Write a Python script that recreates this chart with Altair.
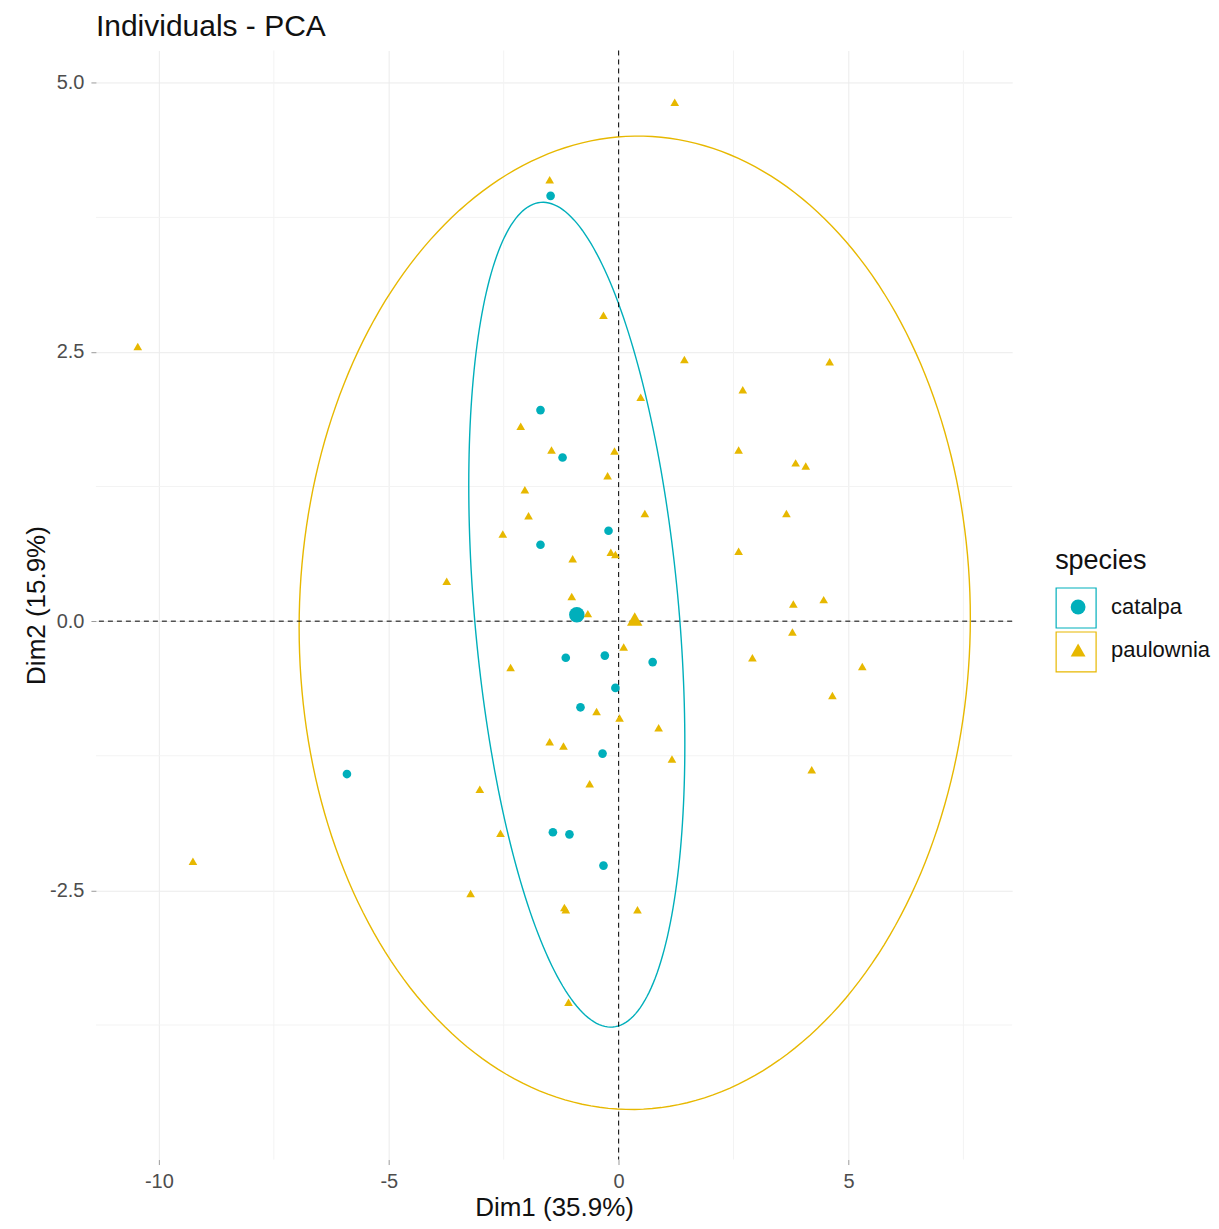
import numpy as np
import pandas as pd
import altair as alt

# ---------------- data ----------------
catalpa_x = [-1.48, -1.70, -1.22, -0.22, -1.70, -1.15, -0.30, 0.74, -0.07, -0.83,
             -0.35, -5.91, -1.43, -1.07, -0.33]
catalpa_y = [3.95, 1.96, 1.52, 0.84, 0.71, -0.34, -0.32, -0.38, -0.62, -0.80,
             -1.23, -1.42, -1.96, -1.98, -2.27]

paulownia_x = [1.22, -1.50, -0.33, -10.46, 1.43, 4.59, 2.70, 0.48, -2.13, -1.46,
               -0.09, 2.61, -0.24, 3.85, 4.07, -2.04, -1.96, 0.57, 3.65, -2.52,
               -1.00, -0.17, -0.07, 2.61, -3.74, -1.02, -0.67, 3.80, 4.46, 3.78,
               0.11, -2.35, 2.91, 5.30, 4.65, -0.48, 0.02, -1.50, -1.20, 0.87,
               1.16, -0.63, 4.20, -3.02, -2.57, -9.26, -3.22, -1.15, -1.18, 0.41,
               -1.09]
paulownia_y = [4.82, 4.10, 2.84, 2.55, 2.43, 2.41, 2.15, 2.08, 1.81, 1.59,
               1.58, 1.59, 1.35, 1.47, 1.44, 1.22, 0.98, 1.00, 1.00, 0.81,
               0.58, 0.64, 0.62, 0.65, 0.37, 0.23, 0.07, 0.16, 0.20, -0.10,
               -0.24, -0.43, -0.34, -0.42, -0.69, -0.84, -0.90, -1.12, -1.16, -0.99,
               -1.28, -1.51, -1.38, -1.56, -1.97, -2.23, -2.53, -2.68, -2.66, -2.68,
               -3.54]

species = ["catalpa", "paulownia"]
palette = ["#00AFBB", "#E7B800"]
shapes = ["circle", "triangle-up"]

# group means (large symbols)
mean_x = [-0.91, 0.35]
mean_y = [0.06, 0.02]

# concentration ellipses: centre x, centre y, half-extent x, half-extent y, correlation
ell_cx = [-0.91, 0.35]
ell_cy = [0.06, -0.015]
ell_sx = [2.35, 7.30]
ell_sy = [3.83, 4.52]
ell_r = [-0.314, 0.01]

major_x = [-10, -5, 0, 5]
major_y = [-2.5, 0.0, 2.5, 5.0]
minor_x = [-7.5, -2.5, 2.5, 7.5]
minor_y = [-3.75, -1.25, 1.25, 3.75]
ref_zero = [0.0]

x_domain = [-11.37, 8.56]
y_domain = [-5.0, 5.30]

# ---------------- tables ----------------
pts = pd.DataFrame({
    "x": catalpa_x + paulownia_x,
    "y": catalpa_y + paulownia_y,
    "species": ["catalpa"] * len(catalpa_x) + ["paulownia"] * len(paulownia_x),
})
means = pd.DataFrame({"x": mean_x, "y": mean_y, "species": species})

rows = []
t = np.linspace(0, 2 * np.pi, 241)
for sp, cx, cy, sx, sy, r in zip(species, ell_cx, ell_cy, ell_sx, ell_sy, ell_r):
    S = np.array([[sx * sx, r * sx * sy], [r * sx * sy, sy * sy]])
    L = np.linalg.cholesky(S)
    circ = np.vstack([np.cos(t), np.sin(t)])
    e = L @ circ
    for i in range(len(t)):
        rows.append({"x": cx + e[0, i], "y": cy + e[1, i], "group": sp, "i": i})
ell = pd.DataFrame(rows)

FONT = "Liberation Sans"
xs = alt.Scale(domain=x_domain, nice=False, zero=False)
ys = alt.Scale(domain=y_domain, nice=False, zero=False)

fix_minus = "replace(datum.label, '\u2212', '-')"

x_axis = alt.Axis(values=major_x, title="Dim1 (35.9%)", grid=True, gridColor="#EBEBEB",
                  gridWidth=1, domain=False, ticks=True, tickSize=5, tickColor="#9A9A9A",
                  labelColor="#4D4D4D", labelFontSize=20, labelFont=FONT, labelPadding=7,
                  labelExpr=fix_minus,
                  titleFont=FONT, titleFontSize=26, titleFontWeight="normal",
                  titleColor="#111111", titlePadding=3)
y_axis = alt.Axis(values=major_y, format=".1f", title="Dim2 (15.9%)", grid=True,
                  gridColor="#EBEBEB", gridWidth=1, domain=False, ticks=True, tickSize=5,
                  tickColor="#9A9A9A", labelColor="#4D4D4D", labelFontSize=20,
                  labelFont=FONT, labelPadding=7, labelExpr=fix_minus,
                  titleFont=FONT, titleFontSize=26,
                  titleFontWeight="normal", titleColor="#111111", titlePadding=0)

base_minx = alt.Chart(pd.DataFrame({"v": minor_x})).mark_rule(
    color="#F3F3F3", strokeWidth=1).encode(x=alt.X("v:Q", scale=xs, axis=x_axis))
base_miny = alt.Chart(pd.DataFrame({"v": minor_y})).mark_rule(
    color="#F3F3F3", strokeWidth=1).encode(y=alt.Y("v:Q", scale=ys, axis=y_axis))

LEG_X = 960
LEG_Y = 498

# legend carrying the title and the outlined key boxes
box_legend = alt.Legend(
    title="species", orient="none", legendX=LEG_X, legendY=LEG_Y,
    symbolType="square", symbolSize=1600, symbolStrokeWidth=1.2,
    symbolFillColor="transparent", rowPadding=-3, titlePadding=12,
    titleFont=FONT, titleFontSize=27, titleFontWeight="normal", titleColor="#111111",
    labelFont=FONT, labelFontSize=20, labelExpr="''",
)
ellipses = alt.Chart(ell).mark_line(strokeWidth=1.4).encode(
    x=alt.X("x:Q", scale=xs, axis=x_axis),
    y=alt.Y("y:Q", scale=ys, axis=y_axis),
    stroke=alt.Stroke("group:N", scale=alt.Scale(range=palette), legend=box_legend),
    detail="group:N",
    order="i:Q",
)

vline = alt.Chart(pd.DataFrame({"v": ref_zero})).mark_rule(
    color="black", strokeWidth=1, strokeDash=[5, 4]).encode(x=alt.X("v:Q", scale=xs, axis=x_axis))
hline = alt.Chart(pd.DataFrame({"v": ref_zero})).mark_rule(
    color="black", strokeWidth=1, strokeDash=[5, 4]).encode(y=alt.Y("v:Q", scale=ys, axis=y_axis))

# legend with the symbols and labels, placed inside the boxes
pt_legend = alt.Legend(
    title=None, orient="none", legendX=LEG_X + 12, legendY=LEG_Y + 48,
    symbolSize=220, symbolStrokeWidth=0, rowPadding=21,
    labelFont=FONT, labelFontSize=22, labelColor="#111111", labelOffset=22,
)
color_enc = alt.Color("species:N", scale=alt.Scale(domain=species, range=palette),
                      legend=pt_legend)
shape_enc = alt.Shape("species:N", scale=alt.Scale(domain=species, range=shapes),
                      legend=pt_legend)

points = alt.Chart(pts).mark_point(filled=True, opacity=1, size=75).encode(
    x=alt.X("x:Q", scale=xs, axis=x_axis),
    y=alt.Y("y:Q", scale=ys, axis=y_axis),
    color=color_enc,
    shape=shape_enc,
)
mean_pts = alt.Chart(means).mark_point(filled=True, opacity=1, size=240).encode(
    x=alt.X("x:Q", scale=xs, axis=x_axis),
    y=alt.Y("y:Q", scale=ys, axis=y_axis),
    color=color_enc,
    shape=shape_enc,
)

chart = alt.layer(base_minx, base_miny, ellipses, vline, hline, points, mean_pts).properties(
    width=917,
    height=1110,
    title=alt.Title("Individuals - PCA", anchor="start", frame="group", font=FONT,
                    fontSize=30, fontWeight="normal", color="#111111", offset=8),
    padding={"left": 15, "top": 3, "right": 0, "bottom": 0},
).configure_view(stroke=None)

chart.save("out.html", embed_options={"renderer": "svg", "actions": False})
